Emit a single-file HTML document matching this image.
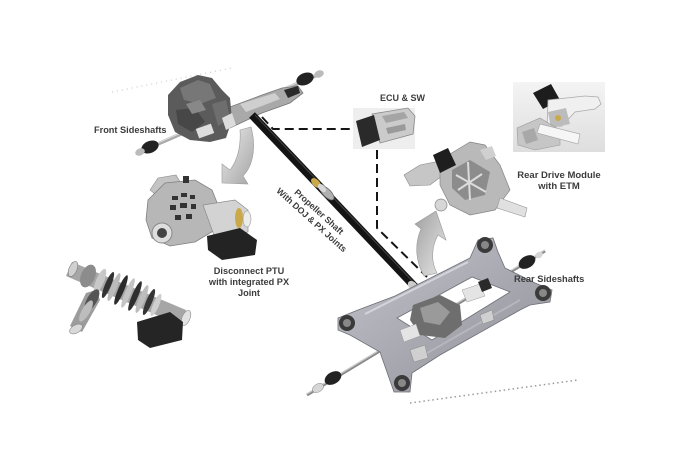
<!DOCTYPE html>
<html><head><meta charset="utf-8">
<style>
html,body{margin:0;padding:0;background:#fff;}
svg{display:block}
text{font-family:"Liberation Sans",Arial,sans-serif;font-weight:bold;fill:#3c3c3c;}
</style></head><body>
<svg width="675" height="450" viewBox="0 0 675 450" xmlns="http://www.w3.org/2000/svg">
<defs>
<linearGradient id="arr" x1="0" y1="0" x2="1" y2="1"><stop offset="0" stop-color="#ececec"/><stop offset="1" stop-color="#a4a4a4"/></linearGradient>
<linearGradient id="arr2" x1="1" y1="1" x2="0" y2="0"><stop offset="0" stop-color="#e8e8e8"/><stop offset="1" stop-color="#a0a0a0"/></linearGradient>
<linearGradient id="frm" x1="0" y1="0" x2="1" y2="1"><stop offset="0" stop-color="#c4c4cc"/><stop offset="1" stop-color="#8f8f98"/></linearGradient>
<linearGradient id="box" x1="0" y1="0" x2="0" y2="1"><stop offset="0" stop-color="#f4f4f4"/><stop offset="1" stop-color="#dedede"/></linearGradient>
</defs>
<rect width="675" height="450" fill="#fff"/>

<!-- faint dotted lines -->
<path d="M112 92 L232 68" stroke="#d4d4d4" stroke-width="1.5" stroke-dasharray="1 4" fill="none"/>
<path d="M410 403 L578 380" stroke="#9a9a9a" stroke-width="1.5" stroke-dasharray="1.5 3" fill="none"/>

<!-- FRONT ASSEMBLY -->
<line x1="137" y1="153" x2="322" y2="73" stroke="#a8a8a8" stroke-width="3.5"/>
<line x1="137" y1="152" x2="322" y2="72" stroke="#dedede" stroke-width="1"/>
<ellipse cx="150" cy="147" rx="9" ry="6" transform="rotate(-23 150 147)" fill="#222"/>
<ellipse cx="140" cy="152" rx="5" ry="3.5" transform="rotate(-23 140 152)" fill="#bbb"/>
<ellipse cx="305" cy="79" rx="9" ry="6" transform="rotate(-23 305 79)" fill="#222"/>
<ellipse cx="319" cy="74" rx="5" ry="3.5" transform="rotate(-23 319 74)" fill="#bbb"/>
<polygon points="222,110 262,95 282,88 298,86 303,93 290,103 262,113 230,128" fill="#a9a9a9" stroke="#777" stroke-width="0.8"/>
<polygon points="240,104 275,93 280,99 246,112" fill="#cfcfcf"/>
<polygon points="284,90 298,86 300,93 288,98" fill="#2a2a2a"/>
<polygon points="168,95 180,82 198,75 212,78 222,90 230,98 232,120 226,138 210,142 190,140 175,132 168,115" fill="#5b5b5b"/>
<polygon points="180,88 198,80 210,84 216,98 200,104 184,100" fill="#777"/>
<polygon points="176,110 195,108 205,122 192,132 178,124" fill="#474747"/>
<polygon points="212,104 226,100 230,118 218,126" fill="#6e6e6e"/>
<polygon points="186,104 200,100 206,110 192,114" fill="#888"/>
<rect x="197" y="126" width="16" height="10" fill="#ddd" transform="rotate(-20 205 131)"/>
<polygon points="222,118 232,113 236,125 226,130" fill="#dcdcdc"/>

<!-- front curved arrow -->
<path d="M240 130 L251 127 C256 145 254 165 243 176 L248 184 L222 183 L222 164 L230 170 C238 160 241 145 240 130 Z" fill="url(#arr)" stroke="#9a9a9a" stroke-width="0.6"/>

<!-- PROPELLER SHAFT -->
<line x1="252" y1="115" x2="416" y2="288" stroke="#141414" stroke-width="8"/>
<line x1="255" y1="115" x2="418" y2="287" stroke="#444" stroke-width="1"/>
<ellipse cx="316" cy="183" rx="3.5" ry="6" transform="rotate(-45 316 183)" fill="#c9a94a"/>
<ellipse cx="327" cy="193" rx="4" ry="9" transform="rotate(-45 327 193)" fill="#b0b0b0" stroke="#666" stroke-width="0.8"/>
<ellipse cx="322" cy="188" rx="3" ry="5" transform="rotate(-45 322 188)" fill="#d8d8d8"/>
<ellipse cx="413" cy="286" rx="4" ry="6" transform="rotate(-45 413 286)" fill="#ccc"/>

<!-- dashed connectors -->
<path d="M262 117 L273 129 L355 129" stroke="#151515" stroke-width="2" stroke-dasharray="9 5" fill="none"/>
<path d="M377 150 L377 228 L427 277" stroke="#151515" stroke-width="2" stroke-dasharray="9 5" fill="none"/>

<!-- ECU -->
<rect x="353" y="108" width="62" height="41" fill="#eeeeee"/>
<polygon points="372,114 408,108 415,116 413,134 380,143" fill="#cbcbcb" stroke="#8a8a8a" stroke-width="0.8"/>
<polygon points="382,116 404,112 408,118 386,123" fill="#a5a5a5"/>
<polygon points="386,128 405,124 406,130 388,134" fill="#9a9a9a"/>
<polygon points="356,121 374,115 380,140 362,147" fill="#2a2a2a"/>

<!-- ETM picture -->
<rect x="513" y="82" width="92" height="70" fill="url(#box)"/>
<polygon points="533,93 551,84 560,100 543,109" fill="#1d1d1d"/>
<polygon points="548,100 585,96 598,97 601,104 595,109 575,112 562,126 547,127" fill="#f0f0f0" stroke="#aaa" stroke-width="0.8"/>
<polygon points="548,112 566,108 570,124 551,128" fill="#bcbcbc"/>
<circle cx="558" cy="118" r="3" fill="#c9a94a"/>
<polygon points="517,128 540,118 560,130 560,145 535,150 518,145" fill="#c6c6c6" stroke="#999" stroke-width="0.6"/>
<polygon points="540,124 580,134 578,144 537,133" fill="#f6f6f6" stroke="#aaa" stroke-width="0.7"/>
<polygon points="522,132 534,128 538,140 526,144" fill="#a8a8a8"/>

<!-- PTU -->
<polygon points="150,190 158,178 176,175 182,185 160,198" fill="#c4c4c4" stroke="#8a8a8a" stroke-width="0.6"/>
<path d="M148 200 L165 183 L195 180 L212 190 L218 205 L215 230 L195 242 L170 246 L152 238 L146 220 Z" fill="#b7b7b7" stroke="#808080" stroke-width="0.8"/>
<g fill="#333">
<rect x="172" y="196" width="6" height="4"/><rect x="181" y="193" width="6" height="4"/><rect x="190" y="195" width="5" height="4"/>
<rect x="170" y="205" width="6" height="5"/><rect x="180" y="203" width="7" height="5"/><rect x="191" y="204" width="5" height="5"/>
<rect x="175" y="215" width="6" height="5"/><rect x="186" y="214" width="6" height="5"/>
</g>
<circle cx="162" cy="233" r="10" fill="#dedede" stroke="#888" stroke-width="1"/>
<circle cx="162" cy="233" r="5" fill="#444"/>
<polygon points="203,205 235,200 248,210 248,232 215,238" fill="#d3d3d3" stroke="#8c8c8c" stroke-width="0.7"/>
<ellipse cx="239" cy="218" rx="4" ry="10" fill="#c9a94a"/>
<ellipse cx="247" cy="219" rx="4" ry="8" fill="#ececec" stroke="#999" stroke-width="0.6"/>
<polygon points="207,236 240,228 257,240 255,255 222,260 208,250" fill="#232323"/>
<rect x="183" y="176" width="6" height="7" fill="#333"/>

<!-- Lower-left gear assembly -->
<polygon points="72,262 186,310 182,326 66,276" fill="#a6a6a6"/>
<polygon points="96,290 100,300 82,332 70,326 86,293" fill="#9c9c9c"/>
<ellipse cx="73" cy="269" rx="4" ry="8" transform="rotate(23 73 269)" fill="#d0d0d0" stroke="#777" stroke-width="0.6"/>
<ellipse cx="88" cy="276" rx="7" ry="12" transform="rotate(23 88 276)" fill="#8c8c8c"/>
<ellipse cx="100" cy="281" rx="4" ry="13" transform="rotate(23 100 281)" fill="#c8c8c8"/>
<ellipse cx="108" cy="285" rx="3" ry="14" transform="rotate(23 108 285)" fill="#333"/>
<ellipse cx="114" cy="287" rx="3" ry="15" transform="rotate(23 114 287)" fill="#bbb"/>
<ellipse cx="121" cy="290" rx="3" ry="16" transform="rotate(23 121 290)" fill="#2b2b2b"/>
<ellipse cx="128" cy="293" rx="3" ry="16" transform="rotate(23 128 293)" fill="#c4c4c4"/>
<ellipse cx="135" cy="296" rx="3" ry="16" transform="rotate(23 135 296)" fill="#2e2e2e"/>
<ellipse cx="142" cy="299" rx="3" ry="15" transform="rotate(23 142 299)" fill="#bdbdbd"/>
<ellipse cx="149" cy="302" rx="3" ry="14" transform="rotate(23 149 302)" fill="#353535"/>
<ellipse cx="156" cy="305" rx="3" ry="12" transform="rotate(23 156 305)" fill="#cfcfcf"/>
<ellipse cx="186" cy="318" rx="4" ry="8" transform="rotate(23 186 318)" fill="#e2e2e2" stroke="#888" stroke-width="0.6"/>
<ellipse cx="92" cy="300" rx="12" ry="5" transform="rotate(-60 92 300)" fill="#555"/>
<ellipse cx="86" cy="311" rx="12" ry="4" transform="rotate(-60 86 311)" fill="#bdbdbd"/>
<ellipse cx="76" cy="329" rx="7" ry="4" transform="rotate(-30 76 329)" fill="#d8d8d8" stroke="#888" stroke-width="0.6"/>
<polygon points="137,322 170,312 183,322 182,340 150,348 138,340" fill="#252525"/>

<!-- Rear drive module -->
<polygon points="404,175 420,165 445,160 450,170 430,185 410,186" fill="#c6c6c6" stroke="#888" stroke-width="0.6"/>
<polygon points="440,160 470,142 485,145 500,165 510,190 495,210 470,215 450,205 440,185" fill="#b9b9b9" stroke="#858585" stroke-width="0.7"/>
<polygon points="452,170 470,160 490,172 485,195 465,200 452,188" fill="#8c8c8c"/>
<path d="M456 175 L486 192 M458 190 L482 174 M468 162 L470 200" stroke="#dcdcdc" stroke-width="2"/>
<polygon points="433,155 448,148 456,165 440,173" fill="#1e1e1e"/>
<polygon points="500,198 527,208 525,217 497,208" fill="#e0e0e0" stroke="#999" stroke-width="0.6"/>
<circle cx="441" cy="205" r="6" fill="#d6d6d6" stroke="#888" stroke-width="0.7"/>
<polygon points="480,150 492,146 496,156 486,160" fill="#d0d0d0"/>

<!-- rear curved arrow -->
<path d="M424 276 C416 262 414 245 421 229 L415 224 L436 211 L446 240 L438 235 C431 248 431 262 437 273 Z" fill="url(#arr2)" stroke="#999" stroke-width="0.6"/>

<!-- REAR SUBFRAME -->
<line x1="307" y1="395" x2="545" y2="251" stroke="#8a8a8a" stroke-width="3"/>
<line x1="307" y1="394" x2="545" y2="250" stroke="#cfcfcf" stroke-width="1"/>
<path fill-rule="evenodd" fill="url(#frm)" stroke="#6f6f78" stroke-width="0.8"
 d="M338 318 L358 310 L395 296 L470 258 L478 240 L493 238 L498 252 L505 268 L535 283 L552 290 L550 302 L530 305 L520 310 L440 355 L412 373 L410 392 L394 392 L388 375 L380 352 L350 335 L338 330 Z
    M397 318 L472 277 L510 292 L432 340 Z"/>
<path d="M365 314 L468 262" stroke="#d4d4da" stroke-width="2" fill="none"/>
<path d="M415 360 L520 300" stroke="#b6b6be" stroke-width="2" fill="none"/>
<polygon points="413,305 440,295 460,305 462,325 445,338 420,335 410,320" fill="#6e6e6e"/>
<polygon points="420,308 438,302 450,312 440,325 424,322" fill="#9a9a9a"/>
<polygon points="400,330 416,324 420,336 404,342" fill="#e4e4e4" stroke="#999" stroke-width="0.5"/>
<polygon points="462,290 480,284 485,296 467,302" fill="#e4e4e4" stroke="#999" stroke-width="0.5"/>
<polygon points="478,282 488,278 492,288 482,292" fill="#2a2a2a"/>
<circle cx="347" cy="323" r="8" fill="#3a3a3a"/><circle cx="347" cy="323" r="4" fill="#888"/>
<circle cx="402" cy="383" r="8" fill="#3a3a3a"/><circle cx="402" cy="383" r="4" fill="#888"/>
<circle cx="485" cy="245" r="8" fill="#3a3a3a"/><circle cx="485" cy="245" r="4" fill="#888"/>
<circle cx="543" cy="293" r="8" fill="#3a3a3a"/><circle cx="543" cy="293" r="4" fill="#888"/>
<polygon points="410,350 425,345 428,358 414,362" fill="#d0d0d0" stroke="#888" stroke-width="0.5"/>
<polygon points="480,315 492,310 494,320 483,324" fill="#d0d0d0" stroke="#888" stroke-width="0.5"/>
<ellipse cx="333" cy="378" rx="9" ry="6" transform="rotate(-31 333 378)" fill="#222"/>
<ellipse cx="318" cy="388" rx="6" ry="4" transform="rotate(-31 318 388)" fill="#d6d6d6" stroke="#888" stroke-width="0.5"/>
<ellipse cx="527" cy="262" rx="9" ry="6" transform="rotate(-31 527 262)" fill="#222"/>
<ellipse cx="539" cy="255" rx="4" ry="3" transform="rotate(-31 539 255)" fill="#d6d6d6"/>

<!-- LABELS -->
<text x="94" y="133" font-size="9.2">Front Sideshafts</text>
<text x="380" y="101" font-size="9">ECU &amp; SW</text>
<text x="559" y="178" font-size="9.5" text-anchor="middle">Rear Drive Module</text>
<text x="559" y="189" font-size="9.5" text-anchor="middle">with ETM</text>
<text x="249" y="274" font-size="9.2" text-anchor="middle">Disconnect PTU</text>
<text x="249" y="285" font-size="9.2" text-anchor="middle">with integrated PX</text>
<text x="249" y="296" font-size="9.2" text-anchor="middle">Joint</text>
<text x="514" y="282" font-size="9.3">Rear Sideshafts</text>
<g transform="translate(317,214) rotate(42)">
<text x="0" y="0" font-size="8.8" text-anchor="middle">Propeller Shaft</text>
<text x="0" y="11" font-size="8.8" text-anchor="middle">With DOJ &amp; PX Joints</text>
</g>
</svg>
</body></html>
